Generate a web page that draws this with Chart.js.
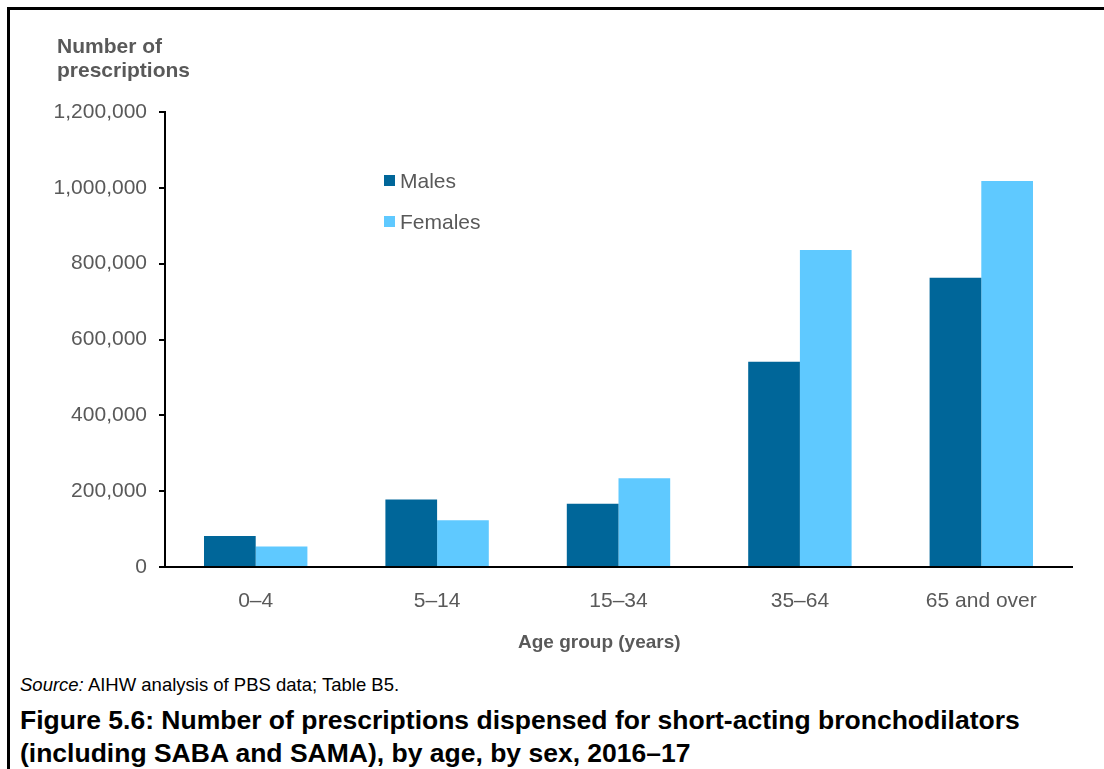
<!DOCTYPE html>
<html>
<head>
<meta charset="utf-8">
<script src="https://cdn.jsdelivr.net/npm/chart.js@4.4.1/dist/chart.umd.min.js"></script>
<style>
    body { margin: 0; background: #fff; font-family: "Liberation Sans", Arial, sans-serif; }
    #wrap { position: relative; width: 1104px; height: 769px; overflow: hidden; }
    #frame { position: absolute; left: 7px; top: 7px; width: 1200px; height: 900px; border-left: 3px solid #000; border-top: 3px solid #000; }
    #chartBox { position: absolute; left: 0; top: 0; width: 1104px; height: 660px; }
    .txt { position: absolute; white-space: nowrap; }
    #ytitle { left: 57px; top: 34px; font-weight: bold; font-size: 21px; line-height: 24px; color: #595959; }
    #xtitle { left: 518px; top: 632px; font-weight: bold; font-size: 19px; line-height: 19px; color: #595959; }
    #source { left: 20px; top: 676px; font-size: 18.5px; line-height: 18.5px; color: #000; }
    #figtitle { left: 20px; top: 704px; font-weight: bold; font-size: 26.5px; line-height: 33px; color: #000; }
</style>
</head>
<body>
<div id="wrap">
    <div id="frame"></div>
    <div id="chartBox"><canvas id="myChart" width="1104" height="660"></canvas></div>
    <div class="txt" id="ytitle">Number of<br>prescriptions</div>
    <div class="txt" id="xtitle">Age group (years)</div>
    <div class="txt" id="source"><i>Source:</i> AIHW analysis of PBS data; Table B5.</div>
    <div class="txt" id="figtitle">Figure 5.6: Number of prescriptions dispensed for short-acting bronchodilators<br>(including SABA and SAMA), by age, by sex, 2016–17</div>
</div>
<script>
const ageGroups = ["0–4", "5–14", "15–34", "35–64", "65 and over"];
const males = [82000, 178000, 167000, 541000, 763000];
const females = [54000, 123000, 234000, 836000, 1018000];
const seriesLabels = ["Males", "Females"];
const seriesColors = ["#006699", "#5fc9ff"];

const fontFamily = "'Liberation Sans', Arial, sans-serif";

// legend drawn inside the plot, stacked vertically
const insideLegend = {
    id: "insideLegend",
    afterDraw(chart) {
        const ctx = chart.ctx;
        ctx.save();
        ctx.font = "21px " + fontFamily;
        ctx.textBaseline = "alphabetic";
        chart.data.datasets.forEach((ds, i) => {
            const y = 181 + i * 41;
            ctx.fillStyle = ds.backgroundColor;
            ctx.fillRect(384, y - 6, 11, 11);
            ctx.fillStyle = "#595959";
            ctx.fillText(ds.label, 400, y + 7);
        });
        ctx.restore();
    }
};

const ctx = document.getElementById("myChart").getContext("2d");
new Chart(ctx, {
    type: "bar",
    data: {
        labels: ageGroups,
        datasets: [
            { label: seriesLabels[0], data: males, backgroundColor: seriesColors[0] },
            { label: seriesLabels[1], data: females, backgroundColor: seriesColors[1] },
        ],
    },
    options: {
        responsive: false,
        animation: false,
        devicePixelRatio: 1,
        layout: { padding: { left: 0, right: 32, top: 112, bottom: 0 } },
        datasets: { bar: { categoryPercentage: 0.57, barPercentage: 1.0 } },
        plugins: { legend: { display: false }, tooltip: { enabled: false } },
        scales: {
            x: {
                afterFit(scale) { scale.height = 93; },
                grid: { display: false },
                border: { color: "#000", width: 2 },
                ticks: { color: "#595959", padding: 14, font: { size: 21, family: fontFamily } },
            },
            y: {
                min: 0,
                max: 1200000,
                afterFit(scale) { scale.width = 165; },
                grid: { drawOnChartArea: false, drawTicks: true, tickLength: 6, color: "#000", lineWidth: 2 },
                border: { color: "#000", width: 2 },
                ticks: {
                    stepSize: 200000,
                    padding: 12,
                    color: "#595959",
                    font: { size: 21, family: fontFamily },
                    callback: (v) => v.toLocaleString("en-US"),
                },
            },
        },
    },
    plugins: [insideLegend],
});
</script>
</body>
</html>
